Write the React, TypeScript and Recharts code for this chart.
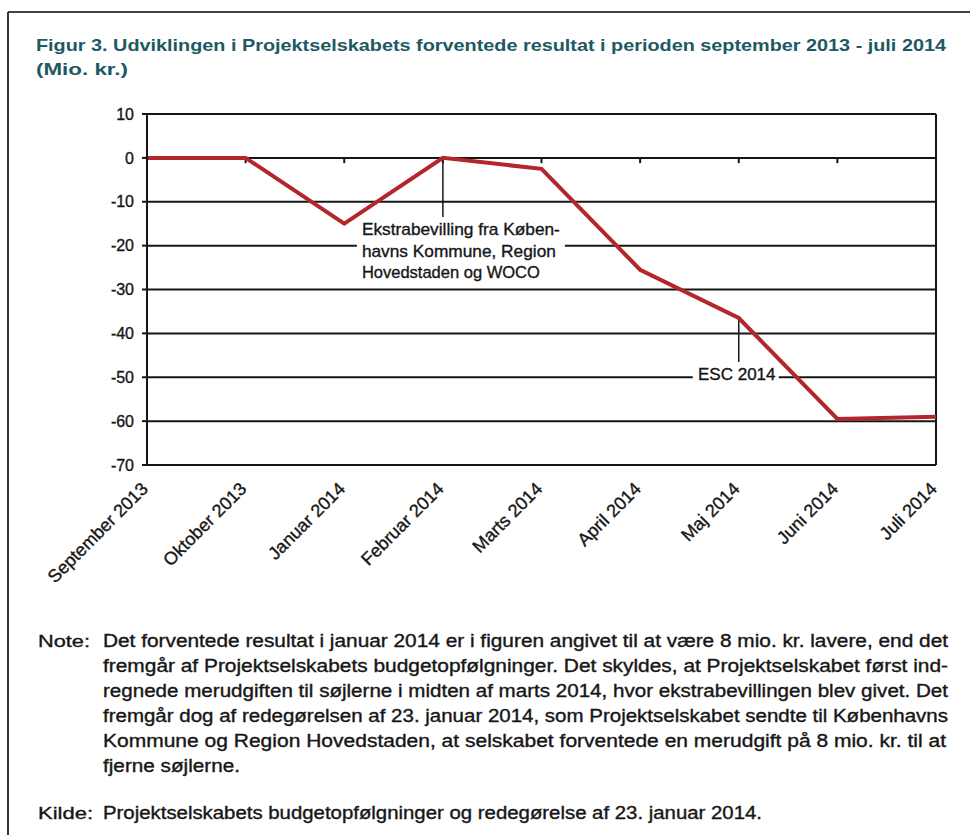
import { CartesianGrid, Line, LineChart, ReferenceLine, XAxis, YAxis } from "recharts";

const months = [
  "September 2013",
  "Oktober 2013",
  "Januar 2014",
  "Februar 2014",
  "Marts 2014",
  "April 2014",
  "Maj 2014",
  "Juni 2014",
  "Juli 2014"
];
const results = [0, 0, -15, 0, -2.5, -25.5, -36.5, -59.5, -59];
const yTicks = [10, 0, -10, -20, -30, -40, -50, -60, -70];

const titleLines = [
  "Figur 3. Udviklingen i Projektselskabets forventede resultat i perioden september 2013 - juli 2014",
  "(Mio. kr.)"
];
const noteLines = [
  "Det forventede resultat i januar 2014 er i figuren angivet til at være 8 mio. kr. lavere, end det",
  "fremgår af Projektselskabets budgetopfølgninger. Det skyldes, at Projektselskabet først ind-",
  "regnede merudgiften til søjlerne i midten af marts 2014, hvor ekstrabevillingen blev givet. Det",
  "fremgår dog af redegørelsen af 23. januar 2014, som Projektselskabet sendte til Københavns",
  "Kommune og Region Hovedstaden, at selskabet forventede en merudgift på 8 mio. kr. til at",
  "fjerne søjlerne."
];
const noteWidths = [845, 845, 845, 845, 843, 137];
const sourceText = "Projektselskabets budgetopfølgninger og redegørelse af 23. januar 2014.";
const grantLines = ["Ekstrabevilling fra Køben-", "havns Kommune, Region", "Hovedstaden og WOCO"];
const grantWidths = [198, 194, 178];

const data = months.map((month, i) => ({ month, value: results[i] }));

const FONT = "'Liberation Sans', Arial, sans-serif";
const RED = "#b3262c";
const INK = "#161616";
const TEAL = "#1d5963";
// scanned print looks a bit heavier than a plain regular face
const HEAVY = { stroke: INK, strokeWidth: 0.35 };

function MonthTick({ x, y, payload }: any) {
  const px = x + 2;
  const py = y + 25;
  return (
    <text
      x={px}
      y={py}
      textAnchor="end"
      transform={`rotate(-45, ${px}, ${py})`}
      fontSize={18}
      fontFamily={FONT}
      fill={INK}
      {...HEAVY}
    >
      {payload.value}
    </text>
  );
}

// label drawn below the lower end of an annotation line, on a white patch
function GrantLabel({ viewBox }: any) {
  const x = viewBox.x;
  const bottom = viewBox.y + viewBox.height;
  return (
    <g>
      <rect x={x - 86} y={bottom + 3} width={208} height={65} fill="#fff" />
      {grantLines.map((line, i) => (
        <text
          key={line}
          x={x - 81}
          y={bottom + 18 + i * 21.5}
          fontSize={17}
          fontFamily={FONT}
          fill={INK}
          textLength={grantWidths[i]}
          lengthAdjust="spacingAndGlyphs"
          {...HEAVY}
        >
          {line}
        </text>
      ))}
    </g>
  );
}

function EscLabel({ viewBox }: any) {
  const x = viewBox.x;
  const bottom = viewBox.y + viewBox.height;
  return (
    <g>
      <rect x={x - 46} y={bottom + 5} width={86} height={18} fill="#fff" />
      <text
        x={x - 2}
        y={bottom + 18}
        textAnchor="middle"
        fontSize={17}
        fontFamily={FONT}
        fill={INK}
        {...HEAVY}
      >
        ESC 2014
      </text>
    </g>
  );
}

function ResultChart() {
  return (
    <LineChart width={970} height={620} data={data} margin={{ top: 114, right: 34, bottom: 0, left: 0 }}>
      <CartesianGrid horizontal vertical={false} stroke={INK} strokeWidth={2} strokeOpacity={1} />
      <XAxis
        dataKey="month"
        type="category"
        height={155}
        interval={0}
        axisLine={false}
        tickLine={false}
        tickSize={0}
        tickMargin={0}
        tick={<MonthTick />}
      />
      <YAxis
        type="number"
        domain={[-70, 10]}
        ticks={yTicks}
        width={147}
        interval={0}
        axisLine={{ stroke: INK, strokeWidth: 2 }}
        tickLine={{ stroke: INK, strokeWidth: 2 }}
        tickSize={5}
        tickMargin={8}
        tick={{ fontSize: 16, fontFamily: FONT, fill: INK, ...HEAVY }}
      />
      <ReferenceLine x="Juli 2014" stroke={INK} strokeWidth={2} />
      {months.slice(1, -1).map((month) => (
        <ReferenceLine
          key={month}
          segment={[
            { x: month, y: 0 },
            { x: month, y: -1.2 }
          ]}
          stroke={INK}
          strokeWidth={2}
        />
      ))}
      <ReferenceLine
        segment={[
          { x: "Februar 2014", y: 0 },
          { x: "Februar 2014", y: -13.5 }
        ]}
        stroke={INK}
        strokeWidth={1.5}
        label={<GrantLabel />}
      />
      <ReferenceLine
        segment={[
          { x: "Maj 2014", y: -36.5 },
          { x: "Maj 2014", y: -46.5 }
        ]}
        stroke={INK}
        strokeWidth={1.5}
        label={<EscLabel />}
      />
      <Line
        type="linear"
        dataKey="value"
        stroke={RED}
        strokeWidth={4}
        dot={false}
        activeDot={false}
        isAnimationActive={false}
      />
    </LineChart>
  );
}

export default function App() {
  return (
    <div
      style={{
        position: "absolute",
        left: 0,
        top: 0,
        width: 970,
        height: 835,
        background: "#fff",
        overflow: "hidden",
        fontFamily: FONT
      }}
    >
      <div style={{ position: "absolute", left: 0, top: 0 }}>
        <ResultChart />
      </div>
      <svg
        width={970}
        height={835}
        style={{ position: "absolute", left: 0, top: 0, pointerEvents: "none" }}
      >
        <line x1={8} y1={12} x2={970} y2={12} stroke="#444" strokeWidth={2} />
        <line x1={8} y1={12} x2={8} y2={835} stroke="#333" strokeWidth={2} />
        <text
          x={36}
          y={51}
          fontSize={17}
          fontWeight="bold"
          fontFamily={FONT}
          fill={TEAL}
          textLength={910}
          lengthAdjust="spacingAndGlyphs"
        >
          {titleLines[0]}
        </text>
        <text
          x={36}
          y={75}
          fontSize={17}
          fontWeight="bold"
          fontFamily={FONT}
          fill={TEAL}
          textLength={92}
          lengthAdjust="spacingAndGlyphs"
        >
          {titleLines[1]}
        </text>
        <text
          x={38}
          y={647}
          fontSize={17}
          fontFamily={FONT}
          fill={INK}
          textLength={52}
          lengthAdjust="spacingAndGlyphs"
          {...HEAVY}
        >
          Note:
        </text>
        {noteLines.map((line, i) => (
          <text
            key={i}
            x={103}
            y={647 + i * 25}
            fontSize={17.5}
            fontFamily={FONT}
            fill={INK}
            textLength={noteWidths[i]}
            lengthAdjust="spacingAndGlyphs"
            {...HEAVY}
          >
            {line}
          </text>
        ))}
        <text
          x={38}
          y={819}
          fontSize={17}
          fontFamily={FONT}
          fill={INK}
          textLength={55}
          lengthAdjust="spacingAndGlyphs"
          {...HEAVY}
        >
          Kilde:
        </text>
        <text
          x={103}
          y={819}
          fontSize={17.5}
          fontFamily={FONT}
          fill={INK}
          textLength={659}
          lengthAdjust="spacingAndGlyphs"
          {...HEAVY}
        >
          {sourceText}
        </text>
      </svg>
    </div>
  );
}
